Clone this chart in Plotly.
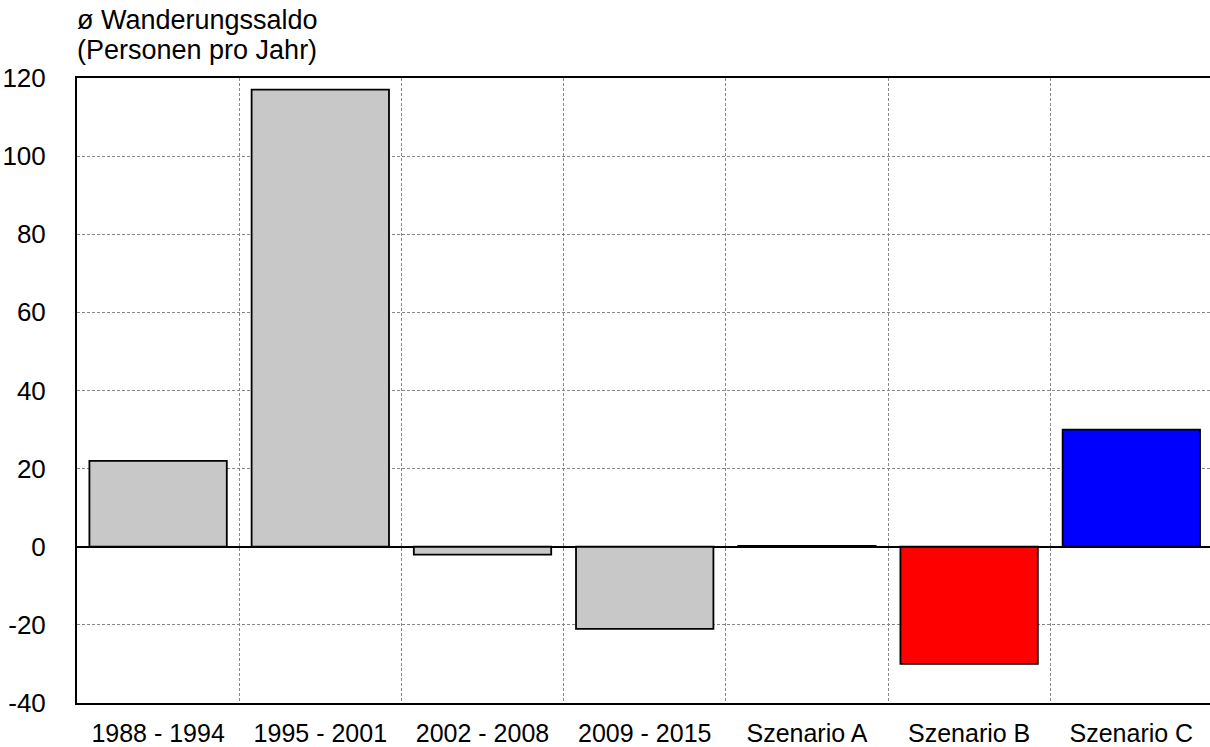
import plotly.graph_objects as go

categories = ["1988 - 1994", "1995 - 2001", "2002 - 2008", "2009 - 2015",
              "Szenario A", "Szenario B", "Szenario C"]
values = [22, 117, -2, -21, 0.2, -30, 30]
colors = ["#C8C8C8", "#C8C8C8", "#C8C8C8", "#C8C8C8", "#C8C8C8", "#FF0000", "#0000FF"]
y_ticks = [-40, -20, 0, 20, 40, 60, 80, 100, 120]
y_tick_labels = ["-40", "-20", "0", "20", "40", "60", "80", "100", "120"]
title_lines = ["ø Wanderungssaldo", "(Personen pro Jahr)"]

font_family = "Liberation Sans, Arial, sans-serif"

fig = go.Figure()
fig.add_trace(go.Bar(
    x=categories, y=values,
    marker=dict(color=colors, line=dict(color="black", width=1.8)),
    hoverinfo="x+y",
))

fig.update_layout(
    width=1210, height=747,
    margin=dict(l=77, r=0, t=78, b=44),
    paper_bgcolor="white", plot_bgcolor="white",
    bargap=0.153,
    showlegend=False,
    font=dict(family=font_family, size=26, color="black"),
    annotations=[
        dict(text=title_lines[0], xref="paper", yref="paper", x=0, y=1,
             xanchor="left", yanchor="middle", yshift=58, xshift=-2,
             showarrow=False, font=dict(family=font_family, size=27, color="black")),
        dict(text=title_lines[1], xref="paper", yref="paper", x=0, y=1,
             xanchor="left", yanchor="middle", yshift=28, xshift=-2,
             showarrow=False, font=dict(family=font_family, size=27, color="black")),
    ],
)

fig.update_xaxes(
    type="category",
    range=[-0.5, 6.485],
    tickson="boundaries",
    showgrid=True, gridcolor="#888888", gridwidth=1, griddash="3px,2px",
    ticks="", ticklabelstandoff=7,
    showline=True, linecolor="black", linewidth=2, mirror=True,
    tickfont=dict(family=font_family, size=25),
    automargin=False,
)
fig.update_yaxes(
    range=[-40, 120],
    tickvals=y_ticks, ticktext=y_tick_labels,
    showgrid=True, gridcolor="#888888", gridwidth=1, griddash="3px,2px",
    zeroline=True, zerolinecolor="black", zerolinewidth=1.5,
    ticks="", ticklabelstandoff=24,
    showline=True, linecolor="black", linewidth=2, mirror=True,
    tickfont=dict(family=font_family, size=26),
    automargin=False,
)

fig.write_html("out.html")
